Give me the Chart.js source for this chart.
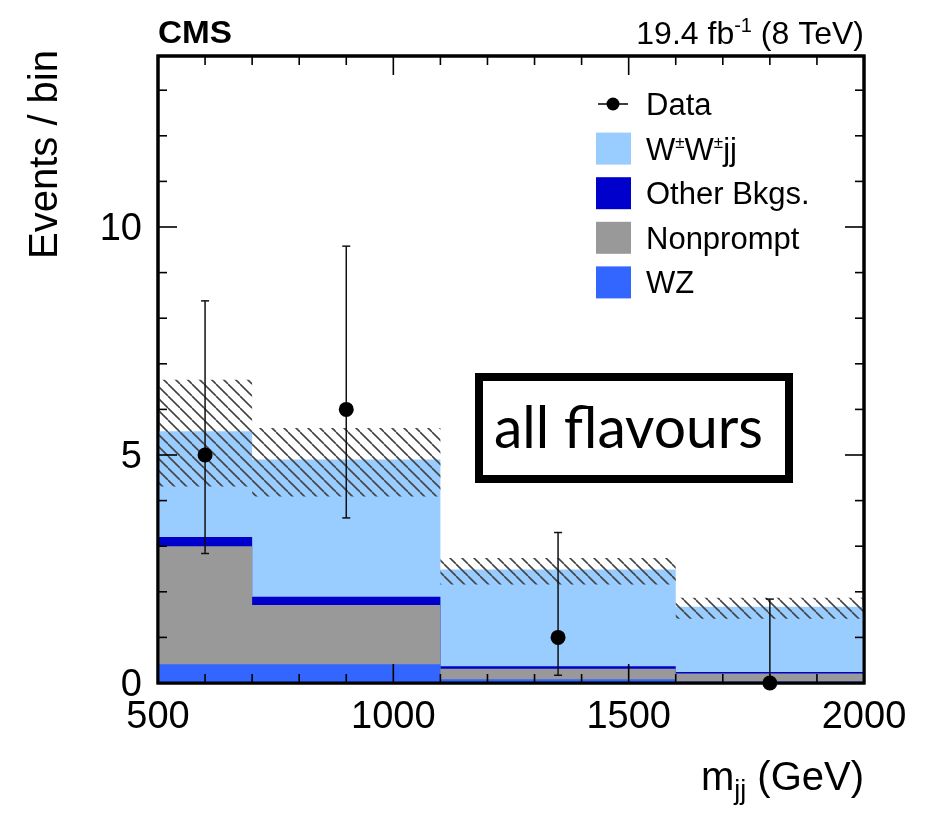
<!DOCTYPE html>
<html><head><meta charset="utf-8">
<script src="https://cdn.jsdelivr.net/npm/chart.js@4/dist/chart.umd.min.js"></script>
<style>html,body{margin:0;padding:0;background:#fff}#c{display:block}</style>
</head><body>
<canvas id="c" width="943" height="813"></canvas>
<script>
// ---- data ----
const binEdges = [500, 700, 1100, 1600, 2000];
const wz = [0.41, 0.41, 0.08, 0.04];
const nonprompt = [2.59, 1.30, 0.23, 0.17];
const otherBkgs = [0.20, 0.18, 0.06, 0.03];
const wwjj = [2.32, 3.01, 2.12, 1.43];
const uncLow = [4.31, 4.09, 2.16, 1.41];
const uncHigh = [6.65, 5.59, 2.74, 1.87];
const dataX = [600, 900, 1350, 1800];
const dataY = [5, 6, 1, 0];
const dataErrLow = [2.84, 3.62, 0.17, 0];
const dataErrHigh = [8.38, 9.58, 3.30, 1.84];
const xTicks = [500, 1000, 1500, 2000];
const yTicks = [0, 5, 10];

const FONT = "'Liberation Sans', Arial, Helvetica, sans-serif";
const colors = { ww: '#99ccff', other: '#0000cc', np: '#999999', wz: '#3366ff' };

function cumulate(...arrs) { return arrs[0].map((_, i) => arrs.reduce((s, a) => s + a[i], 0)); }
function stepPts(vals) {
  const p = vals.map((v, i) => ({ x: binEdges[i], y: v }));
  p.push({ x: binEdges[binEdges.length - 1], y: vals[vals.length - 1] });
  return p;
}
const cWZ = wz;
const cNP = cumulate(wz, nonprompt);
const cOther = cumulate(wz, nonprompt, otherBkgs);
const cWW = cumulate(wz, nonprompt, otherBkgs, wwjj);

// hatch pattern
function makeHatch() {
  const s = 12, cv = document.createElement('canvas');
  cv.width = s; cv.height = s;
  const g = cv.getContext('2d');
  g.strokeStyle = '#444'; g.lineWidth = 1.6;
  for (const o of [-s, 0, s]) { g.beginPath(); g.moveTo(o, 0); g.lineTo(o + s, s); g.stroke(); }
  return g.createPattern(cv, 'repeat');
}
const hatch = makeHatch();

function stackDs(label, vals, color, order) {
  return { type: 'line', label, data: stepPts(vals), stepped: true, fill: 'origin',
    backgroundColor: color, borderColor: 'rgba(0,0,0,0)', borderWidth: 0, pointRadius: 0, order };
}

const datasets = [
  { type: 'scatter', label: 'Data', data: dataX.map((x, i) => ({ x, y: dataY[i] })),
    pointRadius: 7.5, pointHoverRadius: 7.5, backgroundColor: '#000', borderColor: '#000', pointBorderWidth: 0,
    showLine: false, clip: false, order: 0 },
  { type: 'line', label: 'unc high', data: stepPts(uncHigh), stepped: true, fill: '+1',
    backgroundColor: hatch, borderColor: 'rgba(0,0,0,0)', borderWidth: 0, pointRadius: 0, order: 1 },
  { type: 'line', label: 'unc low', data: stepPts(uncLow), stepped: true, fill: false,
    borderColor: 'rgba(0,0,0,0)', borderWidth: 0, pointRadius: 0, order: 2 },
  stackDs('WZ', cWZ, colors.wz, 3),
  stackDs('Nonprompt', cNP, colors.np, 4),
  stackDs('Other Bkgs.', cOther, colors.other, 5),
  stackDs('W±W±jj', cWW, colors.ww, 6)
];

function drawScript(ctx, parts, x, y, align) {
  let w = 0;
  for (const p of parts) { ctx.font = p.size + 'px ' + FONT; w += ctx.measureText(p.t).width; }
  let cx = align === 'right' ? x - w : x;
  ctx.textAlign = 'left';
  for (const p of parts) {
    ctx.font = p.size + 'px ' + FONT;
    ctx.fillText(p.t, cx, y + (p.dy || 0));
    cx += ctx.measureText(p.t).width;
  }
}

const decor = {
  id: 'decor',
  beforeDatasetsDraw(chart) {
    const { ctx, chartArea: a } = chart;
    ctx.save();
    ctx.lineWidth = 3; ctx.strokeStyle = '#000';
    ctx.strokeRect(a.left, a.top, a.right - a.left, a.bottom - a.top);
    ctx.restore();
  },
  beforeDatasetDraw(chart, args) {
    if (args.index !== 0) return;
    const { ctx, chartArea: a, scales: { x, y } } = chart;
    ctx.save();
    ctx.lineWidth = 3; ctx.strokeStyle = '#000';
    ctx.strokeRect(a.left, a.top, a.right - a.left, a.bottom - a.top);
    ctx.lineWidth = 1.6;
    for (let v = x.min; v <= x.max + 1e-6; v += 100) {
      const px = x.getPixelForValue(v);
      const len = xTicks.includes(v) ? 19 : 9;
      ctx.beginPath(); ctx.moveTo(px, a.bottom); ctx.lineTo(px, a.bottom - len); ctx.stroke();
      ctx.beginPath(); ctx.moveTo(px, a.top); ctx.lineTo(px, a.top + len); ctx.stroke();
    }
    for (let v = 0; v <= y.max + 1e-6; v += 1) {
      const py = y.getPixelForValue(v);
      const len = yTicks.includes(v) ? 19 : 9;
      ctx.beginPath(); ctx.moveTo(a.left, py); ctx.lineTo(a.left + len, py); ctx.stroke();
      ctx.beginPath(); ctx.moveTo(a.right, py); ctx.lineTo(a.right - len, py); ctx.stroke();
    }
    ctx.strokeStyle = '#111'; ctx.lineWidth = 1.5;
    dataX.forEach((dx, i) => {
      const px = x.getPixelForValue(dx);
      const top = y.getPixelForValue(dataErrHigh[i]);
      const bot = y.getPixelForValue(dataErrLow[i]);
      ctx.beginPath(); ctx.moveTo(px, top); ctx.lineTo(px, bot); ctx.stroke();
      ctx.beginPath(); ctx.moveTo(px - 4, top); ctx.lineTo(px + 4, top); ctx.stroke();
      if (dataErrLow[i] > 0) { ctx.beginPath(); ctx.moveTo(px - 4, bot); ctx.lineTo(px + 4, bot); ctx.stroke(); }
    });
    ctx.restore();
  },
  afterDraw(chart) {
    const { ctx, chartArea: a } = chart;
    ctx.save();
    ctx.fillStyle = '#000';
    ctx.textBaseline = 'alphabetic';
    ctx.textAlign = 'left';
    ctx.font = 'bold 32px ' + FONT;
    const cw = ctx.measureText('CMS').width;
    ctx.save(); ctx.translate(a.left, 43); ctx.scale(74 / cw, 1); ctx.fillText('CMS', 0, 0); ctx.restore();
    drawScript(ctx, [{ t: '19.4 fb', size: 32 }, { t: '-1', size: 20, dy: -12 }, { t: ' (8 TeV)', size: 32 }], a.right, 44, 'right');
    drawScript(ctx, [{ t: 'm', size: 40 }, { t: 'jj', size: 27, dy: 9 }, { t: ' (GeV)', size: 40 }], a.right, 790, 'right');
    ctx.save();
    ctx.translate(57, a.top - 6); ctx.rotate(-Math.PI / 2);
    ctx.font = '40px ' + FONT; ctx.textAlign = 'right';
    ctx.fillText('Events / bin', 0, 0);
    ctx.restore();
    const items = [
      { label: [{ t: 'Data', size: 31 }], kind: 'data' },
      { label: [{ t: 'W', size: 31 }, { t: '±', size: 17, dy: -12 }, { t: 'W', size: 31 }, { t: '±', size: 17, dy: -12 }, { t: 'jj', size: 31 }], color: colors.ww },
      { label: [{ t: 'Other Bkgs.', size: 31 }], color: colors.other },
      { label: [{ t: 'Nonprompt', size: 31 }], color: colors.np },
      { label: [{ t: 'WZ', size: 31 }], color: colors.wz }
    ];
    const lx = 596, tx = 646, y0 = 104, dy = 44.6;
    items.forEach((it, i) => {
      const cy = y0 + i * dy;
      if (it.kind === 'data') {
        ctx.fillStyle = '#000';
        ctx.strokeStyle = '#000'; ctx.lineWidth = 1.5;
        ctx.beginPath(); ctx.moveTo(lx + 2, cy); ctx.lineTo(lx + 32, cy); ctx.stroke();
        ctx.beginPath(); ctx.arc(lx + 17, cy, 6.5, 0, Math.PI * 2); ctx.fill();
      } else {
        ctx.fillStyle = it.color;
        ctx.fillRect(lx, cy - 16, 35, 32);
      }
      ctx.fillStyle = '#000';
      drawScript(ctx, it.label, tx, cy + 11, 'left');
    });
    ctx.lineWidth = 8; ctx.strokeStyle = '#000';
    ctx.fillStyle = '#fff';
    ctx.fillRect(479, 377, 310, 102);
    ctx.strokeRect(479, 377, 310, 102);
    ctx.fillStyle = '#000';
    ctx.font = '58px Lato, ' + FONT;
    ctx.textAlign = 'left';
    const fw = ctx.measureText('all flavours').width;
    ctx.save(); ctx.translate(494, 448); ctx.scale(269 / fw, 1); ctx.fillText('all flavours', 0, 0); ctx.restore();
    ctx.restore();
  }
};

new Chart(document.getElementById('c'), {
  data: { datasets },
  plugins: [decor],
  options: {
    responsive: false, animation: false, devicePixelRatio: 1,
    layout: { padding: { left: 0, top: 56, right: 79, bottom: 0 } },
    plugins: { legend: { display: false }, tooltip: { enabled: false } },
    events: [],
    scales: {
      x: {
        type: 'linear', min: 500, max: 2000,
        afterFit(s) { s.height = 130; },
        grid: { display: false, drawTicks: false }, border: { display: false },
        ticks: { stepSize: 500, includeBounds: false, autoSkip: false, maxRotation: 0, padding: 12, color: '#000',
          font: { family: FONT, size: 38 }, callback: v => xTicks.includes(v) ? String(v) : '' }
      },
      y: {
        type: 'linear', min: 0, max: 13.75,
        afterFit(s) { s.width = 158; },
        grid: { display: false, drawTicks: false }, border: { display: false },
        ticks: { stepSize: 5, includeBounds: false, autoSkip: false, padding: 16, labelOffset: 3, color: '#000',
          font: { family: FONT, size: 38 }, callback: v => yTicks.includes(v) ? String(v) : '' }
      }
    }
  }
});
</script>
</body></html>
